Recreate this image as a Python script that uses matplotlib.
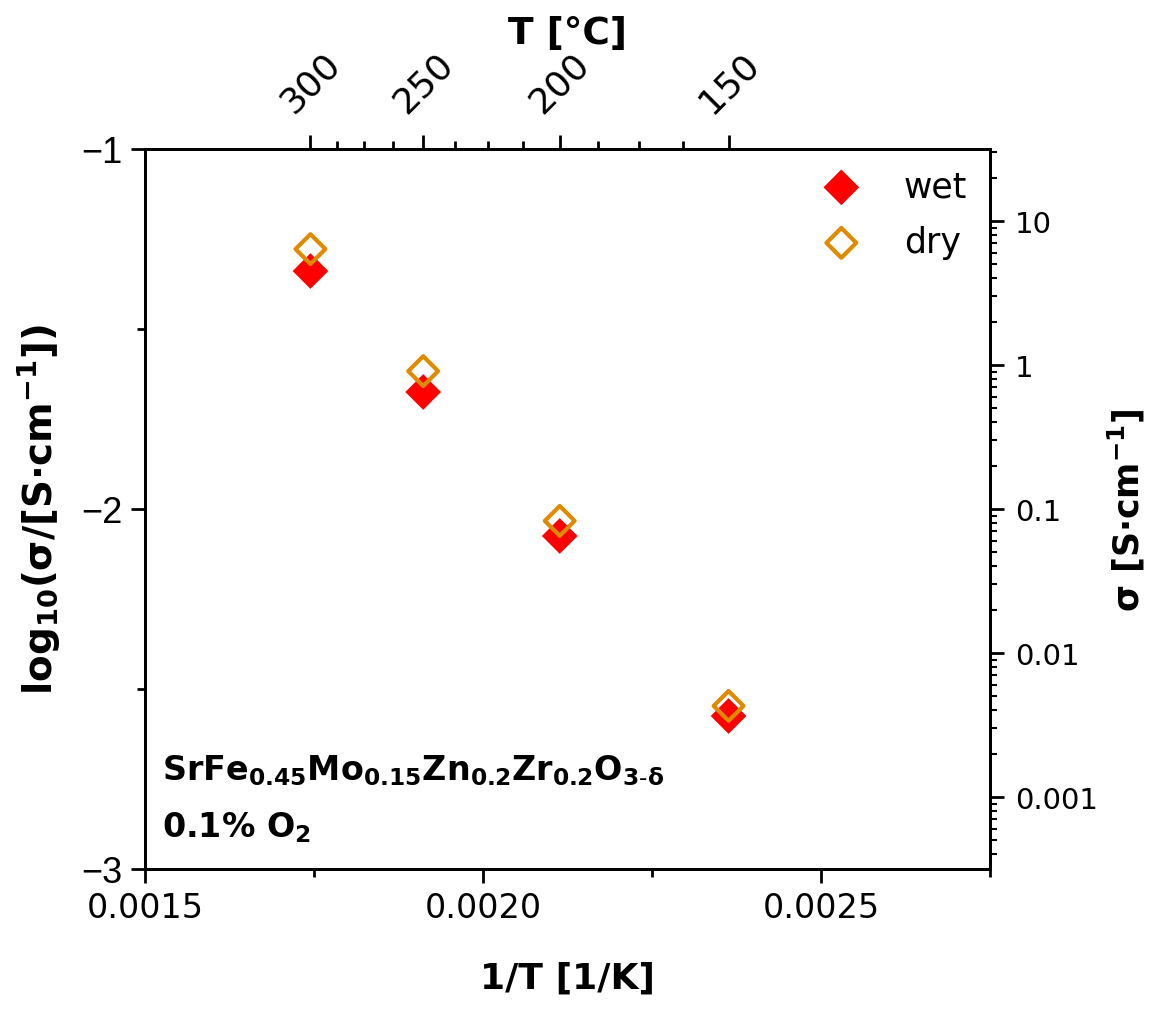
import numpy as np
import matplotlib
matplotlib.use("Agg")
import matplotlib.pyplot as plt
from matplotlib.ticker import FixedLocator, NullFormatter, FuncFormatter, LogLocator

# ---- data ----
temps_C = [300, 250, 200, 150]
log_sigma_wet = [-1.339, -1.675, -2.075, -2.575]
log_sigma_dry = [-1.278, -1.617, -2.033, -2.547]
top_major_T = [300, 250, 200, 150]
top_minor_T = [287.5, 275, 262.5, 237.5, 225, 212.5, 187.5, 175, 162.5]
bottom_ticks = [0.0015, 0.0020, 0.0025]
bottom_labels = ["0.0015", "0.0020", "0.0025"]
left_ticks = [-1, -2, -3]
left_labels = ["\u22121", "\u22122", "\u22123"]
right_ticks = [10, 1, 0.1, 0.01, 0.001]
right_labels = ["10", "1", "0.1", "0.01", "0.001"]

inv_T = [1.0 / (t + 273.15) for t in temps_C]

FONT = "DejaVu Sans"
plt.rcParams["font.family"] = [FONT]
plt.rcParams["mathtext.default"] = "regular"

fig = plt.figure(figsize=(11.5, 10.12), dpi=100)
ax = fig.add_axes([145/1150, 1 - 870/1012, (990-145)/1150, (870-150)/1012])

ax.scatter(inv_T, log_sigma_wet, marker="D", s=330, color="#ff0000", edgecolor="none", zorder=3, label="wet")
ax.scatter(inv_T, log_sigma_dry, marker="D", s=230, facecolor="none", edgecolor="#e08a00", linewidth=3, zorder=4, label="dry")

ax.set_xlim(0.0015, 0.00275)
ax.set_ylim(-3, -1)

for sp in ax.spines.values():
    sp.set_linewidth(2)

ax.xaxis.set_major_locator(FixedLocator(bottom_ticks))
ax.set_xticklabels(bottom_labels, fontsize=24)
ax.xaxis.set_minor_locator(FixedLocator([0.00175, 0.00225, 0.00275]))
ax.yaxis.set_major_locator(FixedLocator(left_ticks))
ax.yaxis.set_minor_locator(FixedLocator([-1.5, -2.5]))
ax.set_yticklabels(left_labels, fontsize=26, family="Liberation Sans")
ax.tick_params(which="major", direction="out", length=10, width=2, pad=6)
ax.tick_params(which="minor", direction="out", length=6, width=2)

ax.set_xlabel("1/T [1/K]", fontsize=26, fontweight="bold", labelpad=26)
ax.set_ylabel(r"log$_{10}$(σ/[S·cm$^{-1}$])", fontsize=28, fontweight="bold")
ax.yaxis.set_label_coords(-0.098, 0.50)

# right axis: conductivity (log)
axr = ax.twinx()
axr.set_yscale("log")
axr.set_ylim(10 ** ((-3 + 2) * 2.5 - 1), 10 ** ((-1 + 2) * 2.5 - 1))
axr.yaxis.set_major_locator(FixedLocator(right_ticks))
axr.yaxis.set_major_formatter(FuncFormatter(lambda v, p: right_labels[right_ticks.index(min(right_ticks, key=lambda r: abs(np.log10(r) - np.log10(v))))]))
axr.yaxis.set_minor_locator(LogLocator(base=10, subs=np.arange(2, 10), numticks=20))
axr.yaxis.set_minor_formatter(NullFormatter())
axr.tick_params(which="major", direction="out", length=10, width=2, labelsize=21, pad=8)
axr.tick_params(which="minor", direction="out", length=5, width=1.5)
axr.set_ylabel("σ [S·cm$^{-1}$]", fontsize=25, fontweight="bold", labelpad=6)
for sp in axr.spines.values():
    sp.set_linewidth(2)

# top axis: temperature
axt = ax.twiny()
axt.set_xlim(ax.get_xlim())
axt.xaxis.set_major_locator(FixedLocator([1.0 / (t + 273.15) for t in top_major_T]))
axt.set_xticklabels([str(t) for t in top_major_T], rotation=45, fontsize=26, ha="center", va="bottom")
axt.xaxis.set_minor_locator(FixedLocator([1.0 / (t + 273.15) for t in top_minor_T]))
axt.tick_params(which="major", direction="out", length=10, width=2, pad=12)
axt.tick_params(which="minor", direction="out", length=6, width=2)
axt.set_xlabel("T [°C]", fontsize=27, fontweight="bold", labelpad=2)
for sp in axt.spines.values():
    sp.set_linewidth(2)

leg = ax.legend(loc="upper right", bbox_to_anchor=(1.01, 1.015), frameon=False, fontsize=25,
                handletextpad=0.8, labelspacing=0.62, borderaxespad=0.5)

ax.text(0.02, 0.125, r"SrFe$_{0.45}$Mo$_{0.15}$Zn$_{0.2}$Zr$_{0.2}$O$_{3\text{-}δ}$", transform=ax.transAxes,
        fontsize=24, fontweight="bold", va="baseline")
ax.text(0.02, 0.045, r"0.1% O$_{2}$", transform=ax.transAxes, fontsize=24, fontweight="bold", va="baseline")

fig.savefig("out.png", dpi=100)
